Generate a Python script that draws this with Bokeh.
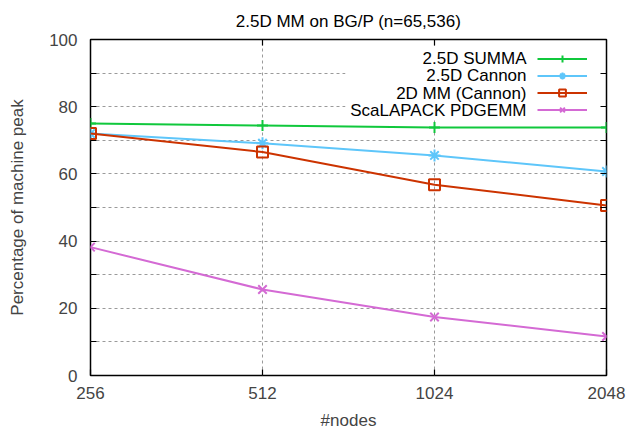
from bokeh.plotting import figure
from bokeh.models import (FixedTicker, LinearAxis, LogAxis, Legend, LegendItem,
                          Label, BoxAnnotation, Range1d)
from bokeh.embed import file_html
from bokeh.resources import INLINE

# ---- data ----
nodes = [256, 512, 1024, 2048]
x_tick_labels = ["256", "512", "1024", "2048"]
summa_25d = [75.0, 74.4, 73.8, 73.8]
cannon_25d = [72.0, 69.1, 65.5, 60.7]
cannon_2d = [72.0, 66.5, 56.8, 50.6]
scalapack = [38.2, 25.6, 17.4, 11.6]
series_names = ["2.5D SUMMA", "2.5D Cannon", "2D MM (Cannon)", "ScaLAPACK PDGEMM"]
y_ticks = [0, 20, 40, 60, 80, 100]
y_minor_ticks = [10, 30, 50, 70, 90]
title_text = "2.5D MM on BG/P (n=65,536)"

FONT = "Liberation Sans"
FS = "17px"

p = figure(width=629, height=435, x_axis_type="log",
           x_range=Range1d(256, 2048), y_range=Range1d(0, 100),
           output_backend="svg", toolbar_location=None,
           min_border_left=90, min_border_right=23,
           min_border_top=39, min_border_bottom=60,
           title=title_text)

p.title.text_font = FONT
p.title.text_font_size = FS
p.title.text_font_style = "normal"
p.title.align = "center"
p.title.text_color = "black"
p.title.standoff = 18

p.outline_line_color = "black"
p.outline_line_width = 1.5
p.outline_line_alpha = 1.0

# bottom axis
xax = p.xaxis[0]
xax.ticker = FixedTicker(ticks=nodes)
xax.major_label_overrides = {n: t for n, t in zip(nodes, x_tick_labels)}
xax.axis_label = "#nodes"
xax.axis_label_text_font = FONT
xax.axis_label_text_font_size = FS
xax.axis_label_text_font_style = "normal"
xax.major_label_text_font = FONT
xax.major_label_text_font_size = FS
xax.major_label_standoff = 11
xax.axis_label_standoff = 9
xax.major_tick_in = 6
xax.major_tick_out = 0
xax.minor_tick_in = 0
xax.minor_tick_out = 0
xax.axis_line_color = None
xax.major_tick_line_color = "black"
xax.major_tick_line_width = 1.2

# left axis
yax = p.yaxis[0]
yax.ticker = FixedTicker(ticks=y_ticks, minor_ticks=y_minor_ticks)
yax.axis_label = "Percentage of machine peak"
yax.axis_label_text_font = FONT
yax.axis_label_text_font_size = FS
yax.axis_label_text_font_style = "normal"
yax.major_label_text_font = FONT
yax.major_label_text_font_size = FS
yax.major_label_standoff = 13
yax.axis_label_standoff = 19
yax.major_tick_in = 6
yax.major_tick_out = 0
yax.minor_tick_in = 6
yax.minor_tick_out = 0
yax.axis_line_color = None
yax.major_tick_line_width = 1.2
yax.minor_tick_line_width = 1.2
yax.minor_tick_line_color = "black"

# mirrored axes (top / right), ticks only
top_ax = LogAxis(ticker=FixedTicker(ticks=[512, 1024]),
                 major_label_overrides={512: "", 1024: ""},
                 major_tick_in=6, major_tick_out=0, minor_tick_in=0, minor_tick_out=0,
                 axis_line_color=None, major_label_standoff=0,
                 major_tick_line_width=1.2, major_label_text_font_size="1px")
p.add_layout(top_ax, "above")
right_ax = LinearAxis(ticker=FixedTicker(ticks=y_ticks, minor_ticks=y_minor_ticks),
                      major_label_overrides={t: "" for t in y_ticks},
                      major_tick_in=6, major_tick_out=0, minor_tick_in=6, minor_tick_out=0,
                      axis_line_color=None, major_label_standoff=0,
                      major_tick_line_width=1.2, minor_tick_line_width=1.2,
                      minor_tick_line_color="black", major_label_text_font_size="1px")
p.add_layout(right_ax, "right")

# grids
p.xgrid.ticker = FixedTicker(ticks=[512, 1024])
p.ygrid.ticker = FixedTicker(ticks=y_minor_ticks + [20, 40, 60, 80])
for g in (p.xgrid[0], p.ygrid[0]):
    g.grid_line_color = "#9a9a9a"
    g.grid_line_dash = "3 3"
    g.grid_line_width = 1

# legend background box
box = BoxAnnotation(left=255, right=511, bottom=257, top=328,
                    left_units="screen", right_units="screen",
                    bottom_units="screen", top_units="screen",
                    fill_color="white", fill_alpha=1.0, line_color=None,
                    level="underlay")
p.add_layout(box)

colors = ["#10c83c", "#5ec6fa", "#cc3300", "#d46ad4"]
markers = ["cross", "asterisk", "square", "x"]
sizes = [11, 12, 11, 12]
series = [summa_25d, cannon_25d, cannon_2d, scalapack]

items = []
for name, vals, c, m, s in zip(series_names, series, colors, markers, sizes):
    rl = p.line(nodes, vals, line_color=c, line_width=2)
    rm = p.scatter(nodes, vals, marker=m, size=s, line_color=c, fill_color=None,
                   line_width=2)
    items.append(LegendItem(label=" ", renderers=[rl, rm]))

legend = Legend(items=items, location=(447, 257), glyph_width=50, glyph_height=17,
                label_height=17, label_width=0, label_standoff=0, padding=0, margin=0,
                spacing=0, border_line_color=None, background_fill_alpha=0,
                label_text_font_size="8px")
p.add_layout(legend)

for i, name in enumerate(series_names):
    p.add_layout(Label(x=436, y=317 - 17.3 * i, x_units="screen", y_units="screen",
                       text=name, text_align="right", text_baseline="middle",
                       text_font=FONT, text_font_size=FS, text_color="black"))

open("out.html", "w").write(file_html(p, INLINE))
